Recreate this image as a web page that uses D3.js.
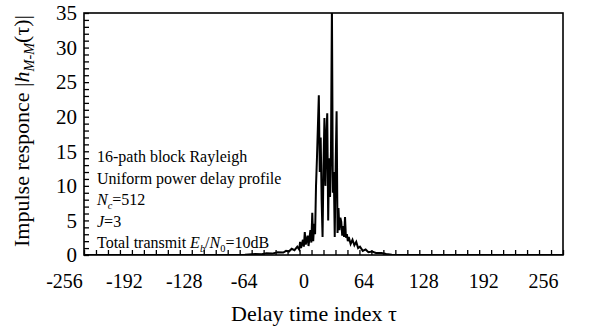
<!DOCTYPE html>
<html>
<head>
<meta charset="utf-8">
<script src="https://cdn.jsdelivr.net/npm/d3@7"></script>
<style>
  body { margin: 0; background: #fff; }
  svg text { font-family: "Liberation Serif", "Times New Roman", serif; fill: #000; }
</style>
</head>
<body>
<div id="chart"></div>
<script>
// delay index and |h| (flat parts only at their ends)
const tau = [-256, -100, -84, -73, -66, -61, -55, -49, -43, -40, -37, -34, -31, -28, -26, -25, -24,
  -22, -21, -20, -19, -17, -16, -14, -13, -12, -11, -10, -9, -8, -7, -5, -4, -3, -2, -1,
  0, 1, 2, 3, 4, 5, 6, 7, 8, 9, 10, 11, 12, 13, 14, 15, 16, 17, 18, 19, 20, 21, 22, 23,
  24, 25, 26, 27, 29, 31, 33, 35, 37, 39, 42, 45, 48, 52, 56, 62, 67, 73, 82, 256];
const amp = [0, 0, 0.05, 0.15, 0.1, 0.25, 0.2, 0.4, 0.35, 0.6, 0.5, 0.9, 0.7, 1.2, 0.8, 1.9, 1.0,
  2.2, 1.2, 3.3, 1.5, 2.8, 1.3, 3.6, 1.8, 6.1, 2.0, 4.5, 3.0, 10, 14, 23.1, 12, 17, 8, 2.6,
  13, 19.8, 10, 17, 20.5, 5, 14, 8.4, 15, 36, 9, 12, 2.6, 13, 20.8, 3.2, 6.8, 3.6, 5.4, 4.8, 2.8, 4.2, 2.6, 5.5,
  2.5, 3.0, 2.0, 2.6, 1.6, 2.2, 1.4, 1.9, 1.0, 1.2, 0.6, 0.8, 0.4, 0.5, 0.3, 0.3, 0.15, 0.05, 0, 0];

const xTickValues = [-256, -192, -128, -64, 0, 64, 128, 192, 256];
const yTickValues = [0, 5, 10, 15, 20, 25, 30, 35];
const xMinorStep = 12.8;
const yMinorStep = 1;

// annotation lines, split into plain / italic / subscript pieces
const noteLines = [
  [{ t: "16-path block Rayleigh" }],
  [{ t: "Uniform power delay profile" }],
  [{ t: "N", i: true }, { t: "c", i: true, sub: true }, { t: "=512" }],
  [{ t: "J", i: true }, { t: "=3" }],
  [{ t: "Total transmit " }, { t: "E", i: true }, { t: "b", i: true, sub: true }, { t: "/" },
   { t: "N", i: true }, { t: "0", sub: true }, { t: "=10dB" }]
];
const yTitle = [{ t: "Impulse responce |" }, { t: "h", i: true }, { t: "M-M", i: true, sub: true }, { t: "(τ)|" }];
const xTitle = "Delay time index τ";

const width = 603, height = 333;
const margin = { top: 13, right: 40, bottom: 78, left: 84 };

const svg = d3.select("#chart")
  .append("svg")
  .attr("width", width)
  .attr("height", height);

const x = d3.scaleLinear()
  .domain([-256, 256])
  .range([margin.left, width - margin.right]);

const y = d3.scaleLinear()
  .domain([0, 35])
  .range([height - margin.bottom, margin.top]);

// helper for rich text pieces
function addPieces(textSel, pieces, size) {
  let shifted = false;
  pieces.forEach(p => {
    const ts = textSel.append("tspan").text(p.t);
    if (p.i) ts.style("font-style", "italic");
    if (p.sub) {
      ts.style("font-size", (size * 0.65) + "px");
      if (!shifted) { ts.attr("dy", size * 0.22); shifted = true; }
    } else if (shifted) {
      ts.attr("dy", -size * 0.22);
      shifted = false;
    }
  });
}

svg.append("clipPath")
  .attr("id", "plotClip")
  .append("rect")
  .attr("x", x(-256))
  .attr("y", y(35))
  .attr("width", x(256) - x(-256))
  .attr("height", y(0) - y(35));

// minor ticks, pointing inward
svg.append("g")
  .attr("transform", `translate(0,${y(0)})`)
  .call(d3.axisTop(x).tickValues(d3.range(-256, 256.001, xMinorStep)).tickSizeInner(5).tickSizeOuter(0).tickFormat(""))
  .call(g => g.select(".domain").remove())
  .selectAll("line").attr("stroke-width", 1.3);

svg.append("g")
  .attr("transform", `translate(${x(-256)},0)`)
  .call(d3.axisRight(y).tickValues(d3.range(0, 35.001, yMinorStep)).tickSizeInner(5).tickSizeOuter(0).tickFormat(""))
  .call(g => g.select(".domain").remove())
  .selectAll("line").attr("stroke-width", 1.3);

// tick labels (the reference sets them a little left of the ticks)
svg.append("g")
  .attr("transform", `translate(-20,${y(0)})`)
  .call(d3.axisBottom(x).tickValues(xTickValues).tickSize(0).tickPadding(19).tickFormat(d => String(d)))
  .call(g => g.select(".domain").remove())
  .selectAll("text")
  .style("font-size", "20px")
  .style("font-family", "'Liberation Serif', serif");

svg.append("g")
  .attr("transform", `translate(${x(-256)},0)`)
  .call(d3.axisLeft(y).tickValues(yTickValues).tickSize(0).tickPadding(7).tickFormat(d => String(d)))
  .call(g => g.select(".domain").remove())
  .selectAll("text")
  .style("font-size", "21px")
  .style("font-family", "'Liberation Serif', serif");

// the response
const line = d3.line()
  .x((d, i) => x(tau[i]))
  .y(d => y(d));

svg.append("path")
  .datum(amp)
  .attr("clip-path", "url(#plotClip)")
  .attr("fill", "none")
  .attr("stroke", "#000")
  .attr("stroke-width", 2)
  .attr("stroke-linejoin", "miter")
  .attr("d", line);

// plot frame
svg.append("rect")
  .attr("x", x(-256))
  .attr("y", y(35))
  .attr("width", x(256) - x(-256))
  .attr("height", y(0) - y(35))
  .attr("fill", "none")
  .attr("stroke", "#000")
  .attr("stroke-width", 1.6);

// annotation block
noteLines.forEach((pieces, k) => {
  const t = svg.append("text")
    .attr("x", 97)
    .attr("y", 162 + k * 21.5)
    .style("font-size", "16px");
  addPieces(t, pieces, 16);
});

// axis titles
svg.append("text")
  .attr("x", 314)
  .attr("y", 321)
  .attr("text-anchor", "middle")
  .style("font-size", "22px")
  .text(xTitle);

const yt = svg.append("text")
  .attr("transform", `translate(29,131) rotate(-90)`)
  .attr("text-anchor", "middle")
  .style("font-size", "22px");
addPieces(yt, yTitle, 22);
</script>
</body>
</html>
